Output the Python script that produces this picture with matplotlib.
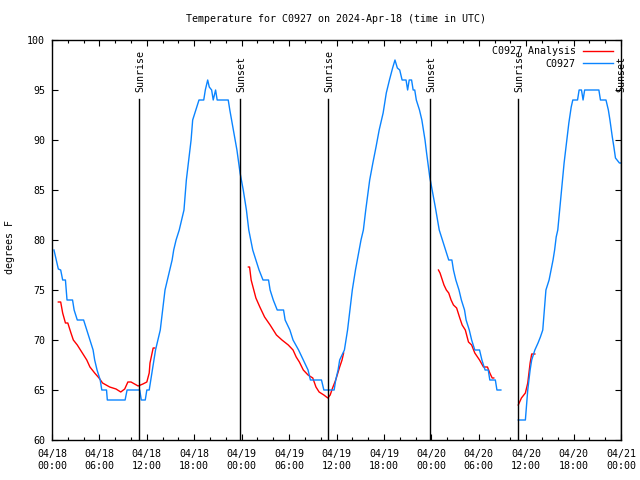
import matplotlib
matplotlib.use('Agg')
import matplotlib.pyplot as plt
from matplotlib.ticker import MultipleLocator, FixedLocator

# hours since 2024-04-18 00:00 UTC
obs_hours = [0.25, 0.8, 1.1, 1.35, 1.7, 1.9, 2.6, 2.8, 3.2, 4.0, 4.4, 4.8, 5.2, 5.4, 5.7, 6.1, 6.3, 6.9,
             7.0, 9.25, 9.5, 11.1, 11.3, 11.8, 12.0, 12.3, 12.5, 12.7, 12.9, 13.1, 13.4, 13.7, 14.0, 14.3,
             14.6, 14.9, 15.2, 15.4, 15.7, 16.1, 16.7, 17.0, 17.3, 17.6, 17.8, 18.2, 18.6, 19.2, 19.4, 19.7,
             19.9, 20.2, 20.4, 20.7, 20.9, 22.3, 22.5, 22.95, 23.4, 23.8, 24.2, 24.6, 24.9, 25.4, 25.8, 26.2,
             26.7, 27.4, 27.6, 28.0, 28.5, 29.3, 29.5, 30.1, 30.5, 31.2, 31.8, 32.4, 32.7, 34.1, 34.4, 35.7,
             35.9, 36.2, 36.4, 37.0, 37.2, 37.4, 37.7, 38.0, 38.4, 38.7, 39.1, 39.4, 39.7, 40.2, 40.6, 41.0,
             41.4, 41.9, 42.3, 42.7, 43.1, 43.4, 43.7, 44.0, 44.3, 44.8, 45.0, 45.2, 45.5, 45.7, 45.9, 46.1,
             46.5, 46.8, 47.0, 47.2, 47.4, 47.8, 48.1, 48.5, 49.0, 49.4, 49.8, 50.2, 50.6, 50.8, 51.1, 51.5,
             51.8, 52.2, 52.4, 52.8, 53.1, 53.5, 54.1, 54.4, 54.8, 55.2, 55.4, 56.1, 56.3, 56.8,
             None,
             59.0, 59.9, 60.0, 60.2, 60.5, 60.7, 61.1, 61.5, 61.8, 62.1, 62.3, 62.5, 62.9, 63.4, 63.6, 63.8,
             64.0, 64.4, 64.8, 65.1, 65.4, 65.7, 65.9, 66.5, 66.7, 67.0, 67.2, 67.4, 69.2, 69.4, 70.1, 70.4,
             70.6, 70.9, 71.1, 71.3, 71.8, 72.0]
obs_temp = [79.0, 77.1, 77.0, 76.0, 76.0, 74.0, 74.0, 73.0, 72.0, 72.0, 71.0, 70.0, 69.0, 68.0, 67.0, 66.0, 65.0, 65.0,
            64.0, 64.0, 65.0, 65.0, 64.0, 64.0, 65.0, 65.0, 66.0, 67.0, 68.0, 69.0, 70.0, 71.0, 73.0, 75.0,
            76.0, 77.0, 78.0, 79.0, 80.0, 81.0, 83.0, 86.0, 88.0, 90.0, 92.0, 93.0, 94.0, 94.0, 95.0, 96.0,
            95.3, 95.0, 94.0, 95.0, 94.0, 94.0, 93.0, 91.0, 89.0, 86.7, 85.0, 83.0, 81.0, 79.0, 78.0, 77.0,
            76.0, 76.0, 75.0, 74.0, 73.0, 73.0, 72.0, 71.0, 70.0, 69.0, 68.0, 67.0, 66.0, 66.0, 65.0, 65.0,
            66.0, 67.0, 68.0, 69.0, 70.0, 71.0, 73.0, 75.0, 77.0, 78.3, 80.0, 81.0, 83.0, 86.0, 87.7, 89.3,
            91.0, 92.7, 94.7, 96.0, 97.2, 98.0, 97.2, 97.0, 96.0, 96.0, 95.0, 96.0, 96.0, 95.0, 95.0, 94.0,
            93.0, 92.0, 91.0, 90.0, 88.7, 86.3, 85.0, 83.3, 81.0, 80.0, 79.0, 78.0, 78.0, 77.0, 76.0, 75.0,
            74.0, 73.0, 72.0, 71.0, 70.0, 69.0, 69.0, 68.0, 67.0, 67.0, 66.0, 66.0, 65.0, 65.0,
            None,
            62.0, 62.0, 63.0, 65.0, 67.0, 68.0, 69.0, 69.7, 70.3, 71.0, 73.0, 75.0, 76.0, 78.0, 79.0, 80.3,
            81.0, 84.3, 87.7, 89.7, 91.7, 93.3, 94.0, 94.0, 95.0, 95.0, 94.0, 95.0, 95.0, 94.0, 94.0, 93.0,
            92.0, 90.3, 89.3, 88.2, 87.7, 87.7]

ana_hours = [0.8, 1.1, 1.35, 1.7, 2.0, 2.4, 2.7, 3.2, 3.6, 4.4, 4.8, 5.4, 5.95, 6.4, 7.3, 8.1, 8.7, 9.2,
             9.6, 10.0, 10.9, 11.5, 12.0, 12.3, 12.4, 12.8, 13.0,
             None,
             24.85, 25.0, 25.2, 25.8, 26.3, 26.9, 27.6, 28.4, 29.1, 29.9, 30.5, 30.9, 31.3, 31.8, 32.4,
             33.0, 33.4, 33.8, 34.4, 34.9, 35.2, 35.5, 35.9, 36.4, 36.7, 36.9,
             None,
             48.9, 49.1, 49.6, 49.9, 50.2, 50.5, 50.8, 51.2, 51.6, 51.9, 52.3, 52.7, 53.1, 53.5, 54.1,
             54.6, 55.1, 55.4, 55.7, 55.9,
             None,
             59.0, 59.4, 59.9, 60.2, 60.5, 60.7, 61.1]
ana_temp = [73.8, 73.8, 72.7, 71.7, 71.7, 70.7, 70.0, 69.5, 69.0, 68.0, 67.3, 66.7, 66.2, 65.7, 65.3, 65.1, 64.8, 65.1,
            65.8, 65.8, 65.4, 65.6, 65.8, 66.7, 67.7, 69.2, 69.2,
            None,
            77.3, 77.3, 76.0, 74.2, 73.3, 72.3, 71.5, 70.5, 70.0, 69.5, 69.0, 68.3, 67.8, 67.0, 66.5,
            66.2, 65.3, 64.8, 64.5, 64.2, 64.5, 65.2, 66.0, 67.3, 68.0, 68.7,
            None,
            77.0, 76.7, 75.5, 75.0, 74.7, 74.0, 73.5, 73.2, 72.2, 71.5, 71.0, 69.8, 69.5, 68.7, 68.0,
            67.3, 67.3, 66.7, 66.2, 66.2,
            None,
            63.5, 64.2, 64.7, 65.7, 67.7, 68.6, 68.6]

sun_hours = [11.0, 23.8, 34.9, 47.85, 59.0, 71.95]
sun_labels = ['Sunrise', 'Sunset', 'Sunrise', 'Sunset', 'Sunrise', 'Sunset']

tick_hours = [0, 6, 12, 18, 24, 30, 36, 42, 48, 54, 60, 66, 72]
tick_labels = ['04/18\n00:00', '04/18\n06:00', '04/18\n12:00', '04/18\n18:00',
               '04/19\n00:00', '04/19\n06:00', '04/19\n12:00', '04/19\n18:00',
               '04/20\n00:00', '04/20\n06:00', '04/20\n12:00', '04/20\n18:00',
               '04/21\n00:00']

plt.rcParams['font.family'] = ['DejaVu Sans Mono']
plt.rcParams['font.size'] = 7.2

fig = plt.figure(figsize=(6.4, 4.8), dpi=100)
ax = fig.add_axes([52 / 640, 40 / 480, 569 / 640, 400 / 480])

ax.plot(ana_hours, ana_temp, color='#ff0000', lw=1.0, label='C0927 Analysis')
ax.plot(obs_hours, obs_temp, color='#0a84ff', lw=1.0, label='C0927')

for h, lab in zip(sun_hours, sun_labels):
    ax.plot([h, h], [60, 94.1], color='black', lw=1.0)
    ax.text(h + 0.15, 94.8, lab, rotation=90, ha='center', va='bottom')

ax.set_xlim(0, 72)
ax.set_ylim(60, 100)
ax.xaxis.set_major_locator(FixedLocator(tick_hours))
ax.set_xticklabels(tick_labels, linespacing=1.3)
ax.xaxis.set_minor_locator(MultipleLocator(2))
ax.yaxis.set_major_locator(MultipleLocator(5))
ax.tick_params(which='both', direction='in', top=True, right=True, width=0.8)
ax.tick_params(which='major', length=4, pad=5)
ax.tick_params(axis='x', which='major', pad=6.5)
ax.tick_params(which='minor', length=2.2)
for s in ax.spines.values():
    s.set_linewidth(1.0)

fig.text(10 / 640, 1 - 247 / 480, 'degrees F', rotation=90, ha='center', va='center')
fig.text(336 / 640, 1 - 19 / 480, 'Temperature for C0927 on 2024-Apr-18 (time in UTC)',
         ha='center', va='center')

ax.legend(loc='upper right', bbox_to_anchor=(0.997, 1.0), frameon=False, markerfirst=False,
          handlelength=3.0, handletextpad=0.7, labelspacing=0.25, borderaxespad=0.25)

fig.savefig('out.png', dpi=100)
